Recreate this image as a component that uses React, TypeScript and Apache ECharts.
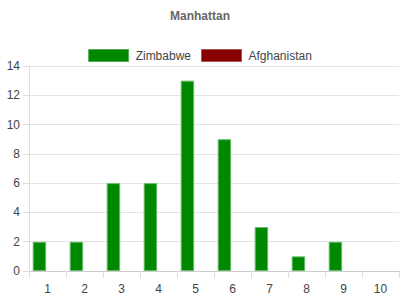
import React, { useEffect, useRef } from "react";
import * as echarts from "echarts";

const categories = ["1", "2", "3", "4", "5", "6", "7", "8", "9", "10"];
const zimbabwe = [2, 2, 6, 6, 13, 9, 3, 1, 2, 0];
const afghanistan = [0, 0, 0, 0, 0, 0, 0, 0, 0, 0];

export default function App() {
  const ref = useRef<HTMLDivElement>(null);
  useEffect(() => {
    if (!ref.current) return;
    const chart = echarts.init(ref.current, null, { renderer: "svg" });
    const font = "Arial, 'Liberation Sans', sans-serif";
    const barItem = (color: string, border: string) => (v: number) => ({
      value: v,
      itemStyle: v === 0 ? { borderWidth: 0 } : { color, borderColor: border, borderWidth: 1 },
    });
    chart.setOption({
      animation: false,
      textStyle: { fontFamily: font },
      title: {
        text: "Manhattan",
        left: "center",
        top: 5,
        textStyle: { fontSize: 12, fontWeight: "bold", color: "#666", fontFamily: font },
      },
      legend: {
        top: 44,
        left: "center",
        icon: "rect",
        itemWidth: 40,
        itemHeight: 12,
        itemGap: 10,
        textStyle: { fontSize: 12, color: "#444", fontFamily: font, padding: [0, 0, 0, 2] },
        data: [
          { name: "Zimbabwe", itemStyle: { color: "#008800", borderColor: "#55aa55", borderWidth: 1 } },
          { name: "Afghanistan", itemStyle: { color: "#880000", borderColor: "#aa5555", borderWidth: 1 } },
        ],
      },
      grid: { left: 29, right: 1, top: 66, bottom: 29, containLabel: false },
      xAxis: {
        type: "category",
        data: categories,
        axisLine: { lineStyle: { color: "#ccc" } },
        axisTick: { show: true, length: 7, lineStyle: { color: "#ddd" } },
        axisLabel: { color: "#444", fontSize: 12, margin: 12, fontFamily: font },
      },
      yAxis: {
        type: "value",
        min: 0,
        max: 14,
        interval: 2,
        axisLine: { show: true, lineStyle: { color: "#ddd" } },
        axisTick: { show: true, length: 6, lineStyle: { color: "#ddd" } },
        splitLine: { lineStyle: { color: "#e4e4e4" } },
        axisLabel: { color: "#444", fontSize: 12, margin: 9, fontFamily: font },
      },
      series: [
        {
          name: "Zimbabwe",
          type: "bar",
          data: zimbabwe.map(barItem("#008800", "#66bb66")),
          barCategoryGap: "20%",
          barGap: "20%",
          itemStyle: { color: "#008800", borderColor: "#66bb66", borderWidth: 1 },
        },
        {
          name: "Afghanistan",
          type: "bar",
          data: afghanistan.map(barItem("#880000", "#bb6666")),
          barCategoryGap: "20%",
          barGap: "20%",
          itemStyle: { color: "#880000", borderColor: "#bb6666", borderWidth: 1 },
        },
      ],
    });
    return () => chart.dispose();
  }, []);
  return <div ref={ref} style={{ width: 400, height: 300, position: "absolute", left: 0, top: 0 }} />;
}
